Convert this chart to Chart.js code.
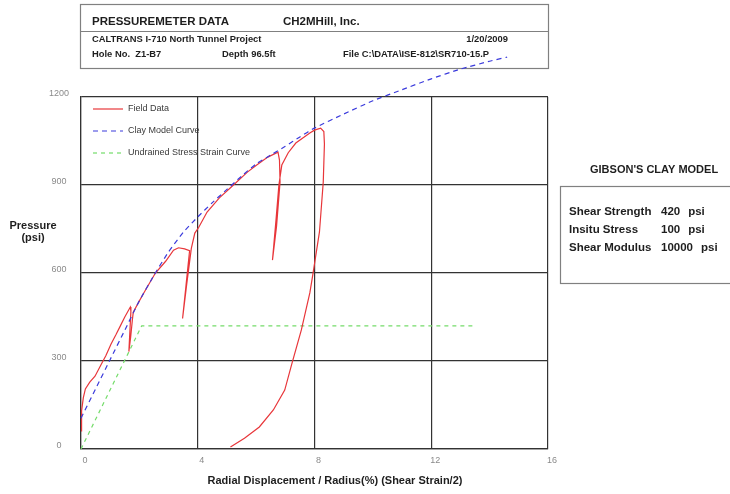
<!DOCTYPE html>
<html>
<head>
<meta charset="utf-8">
<script src="https://cdn.jsdelivr.net/npm/chart.js@4.4.1/dist/chart.umd.min.js"></script>
<style>
  html, body { margin: 0; padding: 0; background: #fff; }
  canvas { display: block; }
</style>
</head>
<body>
<canvas id="c" width="730" height="494"></canvas>
<script>
// Axis ticks
const xTicks = [0, 4, 8, 12, 16];
const yTicks = [0, 300, 600, 900, 1200];

// Field data: pressure vs radial displacement / radius (%), with three unload-reload loops
const fieldX = [0, 0.02, 0.08, 0.15, 0.3, 0.48, 0.69, 0.85, 1.03, 1.2, 1.34, 1.5, 1.69,
  1.71, 1.64, 1.7, 1.76, 1.79, 2.0, 2.21, 2.55, 2.9, 3.17, 3.34, 3.55, 3.72,
  3.6, 3.48, 3.62, 3.78, 3.9, 4.03, 4.32, 4.74, 5.15, 5.7, 6.02, 6.4, 6.75,
  6.8, 6.82, 6.7, 6.56, 6.68, 6.78, 6.88, 7.1, 7.36, 7.84, 8.0, 8.21, 8.32,
  8.34, 8.3, 8.17, 7.94, 7.84, 7.55, 7.23, 6.98, 6.59, 6.11, 5.6, 5.12];
const fieldY = [62, 130, 175, 205, 228, 248, 288, 318, 358, 390, 418, 450, 484,
  470, 332, 380, 440, 466, 505, 542, 600, 640, 678, 686, 682, 676,
  560, 445, 560, 684, 736, 755, 808, 856, 893, 944, 968, 995, 1012,
  985, 910, 760, 644, 780, 900, 968, 1010, 1043, 1077, 1087, 1094, 1082,
  1040, 910, 740, 593, 532, 406, 293, 201, 133, 75, 37, 7];

// Gibson clay model curve
const clayX = [0, 0.5, 1, 1.5, 2, 2.5, 3, 3.5, 4, 4.5, 5, 5.5, 6, 6.5, 7, 7.5, 8, 9, 10, 11, 12, 13, 14, 14.6];
const clayY = [105, 205, 305, 405, 505, 592, 672, 738, 791, 840, 885, 930, 972, 1002, 1032, 1064, 1094, 1142, 1187, 1225, 1262, 1295, 1322, 1336];

// Undrained stress-strain curve
const undrainedX = [0, 2.08, 13.45];
const undrainedY = [0, 420, 420];

const seriesNames = ['Field Data', 'Clay Model Curve', 'Undrained Stress Strain Curve'];
const seriesColors = ['#e8363a', '#3b3bdc', '#74dc6a'];
const seriesDash = [[], [5, 4], [4, 4]];

const modelRows = [
  ['Shear Strength', '420', 'psi'],
  ['Insitu Stress', '100', 'psi'],
  ['Shear Modulus', '10000', 'psi']
];

const FONT = "'Liberation Sans', Arial, sans-serif";
const toPoints = (xs, ys) => xs.map((x, i) => ({ x, y: ys[i] }));

// Header box, legend, model parameters and axis titles
const decor = {
  id: 'decor',
  beforeDatasetsDraw(chart) {
    const ctx = chart.ctx;
    ctx.save();
    // header box
    ctx.strokeStyle = '#808080';
    ctx.lineWidth = 1.2;
    ctx.strokeRect(80.5, 4.5, 468, 64);
    ctx.beginPath();
    ctx.moveTo(80.5, 31.5); ctx.lineTo(548.5, 31.5);
    ctx.stroke();
    ctx.fillStyle = '#1e1e1e';
    ctx.textBaseline = 'middle';
    ctx.textAlign = 'left';
    ctx.font = 'bold 11.5px ' + FONT;
    ctx.fillText('PRESSUREMETER DATA', 92, 22);
    ctx.fillText('CH2MHill, Inc.', 283, 22);
    ctx.font = 'bold 9.4px ' + FONT;
    ctx.fillText('CALTRANS I-710 North Tunnel Project', 92, 39.5);
    ctx.fillText('Hole No.  Z1-B7', 92, 54);
    ctx.fillText('Depth 96.5ft', 222, 54);
    ctx.fillText('File C:\\DATA\\ISE-812\\SR710-15.P', 343, 54);
    ctx.textAlign = 'right';
    ctx.fillText('1/20/2009', 508, 39.5);

    // legend inside the plot
    const ly = [109, 131, 153];
    ctx.textAlign = 'left';
    ctx.font = '9px ' + FONT;
    seriesNames.forEach((name, i) => {
      ctx.strokeStyle = seriesColors[i];
      ctx.lineWidth = 1.2;
      ctx.setLineDash(seriesDash[i]);
      ctx.beginPath();
      ctx.moveTo(93, ly[i]); ctx.lineTo(123, ly[i]);
      ctx.stroke();
      ctx.setLineDash([]);
      ctx.fillStyle = '#3a3a3a';
      ctx.fillText(name, 128, ly[i]);
    });

    // model parameter panel
    ctx.fillStyle = '#1e1e1e';
    ctx.font = 'bold 11px ' + FONT;
    ctx.fillText("GIBSON'S CLAY MODEL", 590, 170);
    ctx.strokeStyle = '#808080';
    ctx.lineWidth = 1.2;
    ctx.strokeRect(560.5, 186.5, 200, 97);
    ctx.font = 'bold 11.5px ' + FONT;
    const ry = [212, 230, 248];
    modelRows.forEach((r, i) => {
      ctx.fillText(r[0], 569, ry[i]);
      ctx.fillText(r[1], 661, ry[i]);
      ctx.fillText(r[2], 661 + ctx.measureText(r[1]).width + 8, ry[i]);
    });

    // axis titles
    ctx.textAlign = 'center';
    ctx.font = 'bold 11px ' + FONT;
    ctx.fillText('Pressure', 33, 226);
    ctx.fillText('(psi)', 33, 238);
    ctx.fillText('Radial Displacement / Radius(%) (Shear Strain/2)', 335, 481);
    ctx.restore();
  }
};

new Chart(document.getElementById('c'), {
  type: 'scatter',
  data: {
    datasets: [
      {
        label: seriesNames[0],
        data: toPoints(fieldX, fieldY),
        showLine: true, borderColor: seriesColors[0], borderWidth: 1.2,
        pointRadius: 0, tension: 0, clip: false, order: 1
      },
      {
        label: seriesNames[1],
        data: toPoints(clayX, clayY),
        showLine: true, borderColor: seriesColors[1], borderWidth: 1.2,
        borderDash: seriesDash[1], pointRadius: 0, tension: 0.2, clip: false, order: 0
      },
      {
        label: seriesNames[2],
        data: toPoints(undrainedX, undrainedY),
        showLine: true, borderColor: seriesColors[2], borderWidth: 1.2,
        borderDash: seriesDash[2], pointRadius: 0, tension: 0, clip: false, order: 2
      }
    ]
  },
  options: {
    responsive: false,
    animation: false,
    devicePixelRatio: 1,
    layout: { padding: { left: 41, top: 97, right: 182, bottom: 0 } },
    plugins: { legend: { display: false }, tooltip: { enabled: false } },
    scales: {
      x: {
        type: 'linear', min: 0, max: 16,
        afterBuildTicks: s => { s.ticks = xTicks.map(v => ({ value: v })); },
        afterFit: s => { s.height = 45; },
        grid: { color: '#333', lineWidth: 1.2, drawTicks: false },
        border: { color: '#333', width: 1.2 },
        ticks: { color: '#8a8a8a', font: { family: FONT, size: 9 }, padding: 6, labelOffset: 4, maxRotation: 0,
                 callback: v => String(v) }
      },
      y: {
        type: 'linear', min: 0, max: 1200,
        afterBuildTicks: s => { s.ticks = yTicks.map(v => ({ value: v })); },
        afterFit: s => { s.width = 40; },
        grid: { color: '#333', lineWidth: 1.2, drawTicks: false },
        border: { color: '#333', width: 1.2 },
        ticks: { color: '#8a8a8a', font: { family: FONT, size: 9 }, padding: 12, crossAlign: 'center', labelOffset: -3,
                 callback: v => String(v) }
      }
    }
  },
  plugins: [decor]
});
</script>
</body>
</html>
